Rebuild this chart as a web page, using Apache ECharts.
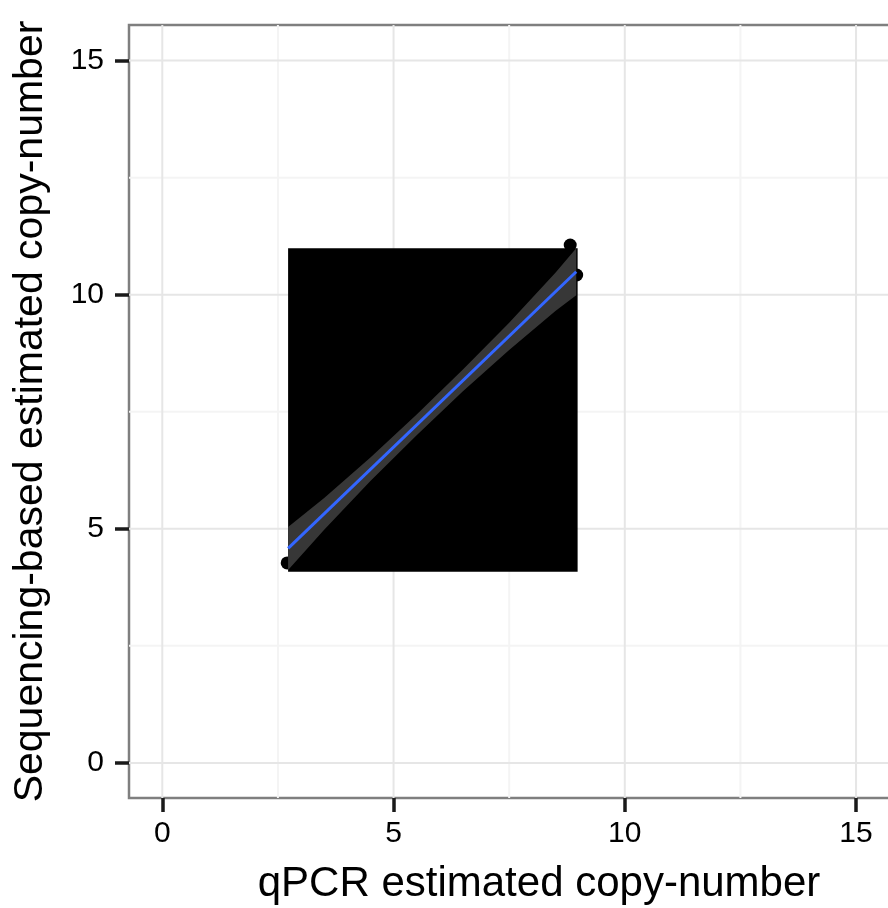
<!DOCTYPE html>
<html>
<head>
<meta charset="utf-8">
<script src="https://cdn.jsdelivr.net/npm/echarts@6/dist/echarts.min.js"></script>
<style>
  html, body { margin: 0; padding: 0; background: #ffffff; }
  #chart { width: 888px; height: 908px; }
</style>
</head>
<body>
<div id="chart"></div>
<script>
// Observed points: qPCR vs sequencing-based copy-number
const pointX = [2.70, 8.82, 8.96];
const pointY = [4.27, 11.06, 10.42];

// Shaded block spanning the sample range
const blockX = [2.72, 8.98];
const blockY = [4.08, 10.99];

// Linear fit and its confidence band
const fitX = [2.72, 8.95];
const fitY = [4.58, 10.49];
const bandX = [2.72, 3.5, 4.5, 5.5, 6.5, 7.5, 8.5, 8.95];
const bandUpper = [5.04, 5.66, 6.52, 7.44, 8.40, 9.40, 10.47, 10.99];
const bandLower = [4.12, 4.98, 6.02, 7.00, 7.94, 8.82, 9.65, 9.99];

// Axis ticks and grid lines
const majorTicks = [0, 5, 10, 15];
const minorTicks = [2.5, 7.5, 12.5, 17.5];
const xRange = [-0.72, 17.01];
const yRange = [-0.75, 15.76];

const FONT = "'Liberation Sans', Arial, Helvetica, sans-serif";

const chart = echarts.init(document.getElementById('chart'), null, { renderer: 'canvas' });

// grid line items: [value, dimension (0 = x, 1 = y), major flag]
const gridLineData = [];
minorTicks.forEach(v => { gridLineData.push([v, 0, 0]); gridLineData.push([v, 1, 0]); });
majorTicks.forEach(v => { gridLineData.push([v, 0, 1]); gridLineData.push([v, 1, 1]); });

const bandPolygon = bandX.map((x, i) => [x, bandUpper[i]])
  .concat(bandX.map((x, i) => [x, bandLower[i]]).reverse());

const tickStyle = { color: '#1a1a1a', width: 3.5 };

chart.setOption({
  animation: false,
  backgroundColor: '#ffffff',
  grid: {
    left: 129, top: 25, width: 820, bottom: 110,
    outerBoundsMode: 'none',
    containLabel: false,
    show: true,
    backgroundColor: '#ffffff',
    borderColor: '#7f7f7f',
    borderWidth: 2.5
  },
  xAxis: {
    type: 'value',
    min: xRange[0], max: xRange[1],
    name: 'qPCR estimated copy-number',
    nameLocation: 'middle',
    nameGap: 65,
    nameTextStyle: { fontFamily: FONT, fontSize: 42, color: '#000' },
    axisLine: { show: false, onZero: false },
    splitLine: { show: false },
    axisTick: {
      show: true, length: 14, inside: false,
      customValues: majorTicks,
      lineStyle: tickStyle
    },
    axisLabel: {
      customValues: majorTicks,
      fontFamily: FONT, fontSize: 30, color: '#000', margin: 21
    }
  },
  yAxis: {
    type: 'value',
    min: yRange[0], max: yRange[1],
    name: 'Sequencing-based estimated copy-number',
    nameLocation: 'middle',
    nameGap: 78,
    nameRotate: 90,
    nameTextStyle: { fontFamily: FONT, fontSize: 41, color: '#000' },
    axisLine: { show: false, onZero: false },
    splitLine: { show: false },
    axisTick: {
      show: true, length: 14, inside: false,
      customValues: majorTicks,
      lineStyle: tickStyle
    },
    axisLabel: {
      customValues: majorTicks,
      fontFamily: FONT, fontSize: 30, color: '#000', margin: 25
    }
  },
  series: [
    {
      // panel grid lines
      type: 'custom',
      z: 1,
      silent: true,
      clip: true,
      data: gridLineData,
      renderItem: function (params, api) {
        const cs = params.coordSys;
        const v = api.value(0);
        const dim = api.value(1);
        const major = api.value(2) === 1;
        let shape;
        if (dim === 0) {
          const x = api.coord([v, 0])[0];
          shape = { x1: x, y1: cs.y, x2: x, y2: cs.y + cs.height };
        } else {
          const y = api.coord([0, v])[1];
          shape = { x1: cs.x, y1: y, x2: cs.x + cs.width, y2: y };
        }
        return {
          type: 'line',
          shape: shape,
          style: { stroke: major ? '#e6e6e6' : '#f4f4f4', lineWidth: 2 }
        };
      }
    },
    {
      type: 'scatter',
      data: pointX.map((x, i) => [x, pointY[i]]),
      symbol: 'circle',
      symbolSize: 13,
      itemStyle: { color: '#000000', opacity: 1 },
      z: 2
    },
    {
      type: 'custom',
      z: 3,
      silent: true,
      data: [[blockX[0], blockY[0], blockX[1], blockY[1]]],
      renderItem: function (params, api) {
        const p0 = api.coord([api.value(0), api.value(3)]);
        const p1 = api.coord([api.value(2), api.value(1)]);
        return {
          type: 'rect',
          shape: { x: p0[0], y: p0[1], width: p1[0] - p0[0], height: p1[1] - p0[1] },
          style: { fill: '#000000' }
        };
      }
    },
    {
      type: 'custom',
      z: 4,
      silent: true,
      data: [0],
      renderItem: function (params, api) {
        const pts = bandPolygon.map(p => api.coord(p));
        return {
          type: 'polygon',
          shape: { points: pts },
          style: { fill: '#373737' }
        };
      }
    },
    {
      type: 'line',
      z: 5,
      data: fitX.map((x, i) => [x, fitY[i]]),
      showSymbol: false,
      symbol: 'none',
      lineStyle: { color: '#3366FF', width: 3 },
      silent: true
    }
  ]
});
</script>
</body>
</html>
